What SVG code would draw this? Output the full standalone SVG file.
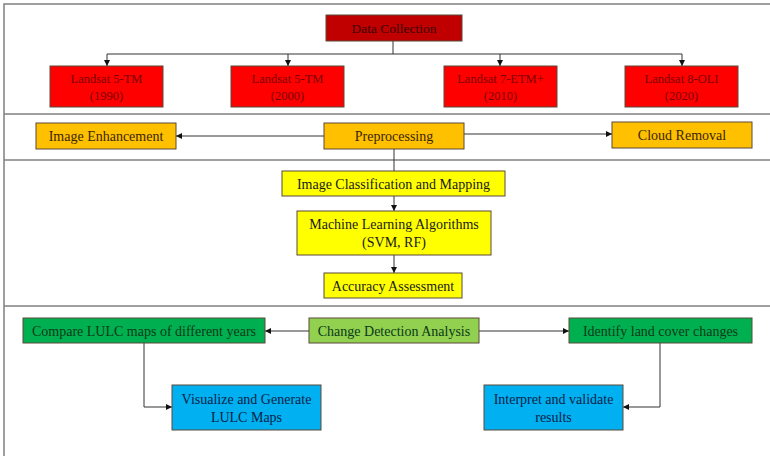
<svg xmlns="http://www.w3.org/2000/svg" width="770" height="456" viewBox="0 0 770 456">
<style>
text{font-family:"Liberation Serif","Times New Roman",serif;text-anchor:middle;font-size:14px;}
.frame{fill:none;stroke:#808080;stroke-width:1.5;}
.div{stroke:#808080;stroke-width:1.5;}
.b{stroke:#5a4a3a;stroke-width:1;}
.dred{fill:#C00000;}
.red{fill:#FF0000;}
.org{fill:#FFC000;}
.yel{fill:#FFFF00;}
.grn{fill:#00B050;}
.lgr{fill:#92D050;}
.blu{fill:#00B0F0;}
.t-dred{fill:#3a0000;}
.t-red{fill:#7a0000;}
.t-org{fill:#3a2600;}
.t-yel{fill:#1a1a1a;}
.t-grn{fill:#0b3a18;}
.t-blu{fill:#0a2248;}
.c{fill:none;stroke:#333;stroke-width:1;}
</style>
<defs>
<marker id="ah" viewBox="0 0 6 6" refX="6" refY="3" markerWidth="6" markerHeight="6" orient="auto" markerUnits="userSpaceOnUse">
<path d="M0,0 L6,3 L0,6 z" fill="#111"/>
</marker>
</defs>
<rect width="770" height="456" fill="#fff"/>
<rect class="frame" x="4" y="4" width="772" height="460"/>
<line class="div" x1="4" y1="114" x2="770" y2="114"/>
<line class="div" x1="4" y1="160" x2="770" y2="160"/>
<line class="div" x1="4" y1="306" x2="770" y2="306"/>

<g id="connectors">
<path class="c" d="M393,41 V54"/>
<path class="c" d="M107,54 H682"/>
<path class="c" d="M107,54 V66" marker-end="url(#ah)"/>
<path class="c" d="M288,54 V66" marker-end="url(#ah)"/>
<path class="c" d="M500,54 V66" marker-end="url(#ah)"/>
<path class="c" d="M682,54 V66" marker-end="url(#ah)"/>
<path class="c" d="M324,136 H176" marker-end="url(#ah)"/>
<path class="c" d="M464,134 H612" marker-end="url(#ah)"/>
<path class="c" d="M394,149 V171"/>
<path class="c" d="M394,196 V211" marker-end="url(#ah)"/>
<path class="c" d="M394,255 V273" marker-end="url(#ah)"/>
<path class="c" d="M309,331 H265" marker-end="url(#ah)"/>
<path class="c" d="M479,331 H569" marker-end="url(#ah)"/>
<path class="c" d="M144,343 V407 H172" marker-end="url(#ah)"/>
<path class="c" d="M660,343 V407 H623" marker-end="url(#ah)"/>
</g>

<g id="data-collection">
<rect class="b dred" x="326" y="15" width="136" height="26"/>
<text class="t-dred" x="394" y="32.5" style="font-size:13.5px">Data Collection</text>
</g>
<g id="landsat-1990">
<rect class="b red" x="50" y="66" width="113" height="41"/>
<text class="t-red" x="106.5" y="82.5" style="font-size:12.5px">Landsat 5-TM</text>
<text class="t-red" x="106.5" y="99.5" style="font-size:12.5px">(1990)</text>
</g>
<g id="landsat-2000">
<rect class="b red" x="231" y="66" width="113" height="41"/>
<text class="t-red" x="287.5" y="82.5" style="font-size:12.5px">Landsat 5-TM</text>
<text class="t-red" x="287.5" y="99.5" style="font-size:12.5px">(2000)</text>
</g>
<g id="landsat-2010">
<rect class="b red" x="444" y="66" width="113" height="41"/>
<text class="t-red" x="500.5" y="82.5" style="font-size:12.5px">Landsat 7-ETM+</text>
<text class="t-red" x="500.5" y="99.5" style="font-size:12.5px">(2010)</text>
</g>
<g id="landsat-2020">
<rect class="b red" x="625" y="66" width="113" height="41"/>
<text class="t-red" x="681.5" y="82.5" style="font-size:12.5px">Landsat 8-OLI</text>
<text class="t-red" x="681.5" y="99.5" style="font-size:12.5px">(2020)</text>
</g>

<g id="image-enhancement">
<rect class="b org" x="36" y="123" width="140" height="26"/>
<text class="t-org" x="106" y="141">Image Enhancement</text>
</g>
<g id="preprocessing">
<rect class="b org" x="324" y="123" width="140" height="26"/>
<text class="t-org" x="394" y="141">Preprocessing</text>
</g>
<g id="cloud-removal">
<rect class="b org" x="612" y="122" width="140" height="26"/>
<text class="t-org" x="682" y="140">Cloud Removal</text>
</g>

<g id="image-classification">
<rect class="b yel" x="282" y="171" width="223" height="25"/>
<text class="t-yel" x="393.5" y="188.5">Image Classification and Mapping</text>
</g>
<g id="ml-algorithms">
<rect class="b yel" x="297" y="211" width="194" height="44"/>
<text class="t-yel" x="394" y="229">Machine Learning Algorithms</text>
<text class="t-yel" x="394" y="247">(SVM, RF)</text>
</g>
<g id="accuracy">
<rect class="b yel" x="324" y="273" width="138" height="25"/>
<text class="t-yel" x="393" y="290.5">Accuracy Assessment</text>
</g>

<g id="compare">
<rect class="b grn" x="23" y="318" width="242" height="25"/>
<text class="t-grn" x="144" y="335.5">Compare LULC maps of different years</text>
</g>
<g id="change-detection">
<rect class="b lgr" x="309" y="318" width="170" height="25"/>
<text class="t-grn" x="394" y="335.5">Change Detection Analysis</text>
</g>
<g id="identify">
<rect class="b grn" x="569" y="318" width="183" height="25"/>
<text class="t-grn" x="660.5" y="335.5">Identify land cover changes</text>
</g>
<g id="visualize">
<rect class="b blu" x="172" y="385" width="149" height="45"/>
<text class="t-blu" x="246.5" y="403.5">Visualize and Generate</text>
<text class="t-blu" x="246.5" y="421.5">LULC Maps</text>
</g>
<g id="interpret">
<rect class="b blu" x="484" y="385" width="139" height="45"/>
<text class="t-blu" x="553.5" y="403.5">Interpret and validate</text>
<text class="t-blu" x="553.5" y="421.5">results</text>
</g>
</svg>
